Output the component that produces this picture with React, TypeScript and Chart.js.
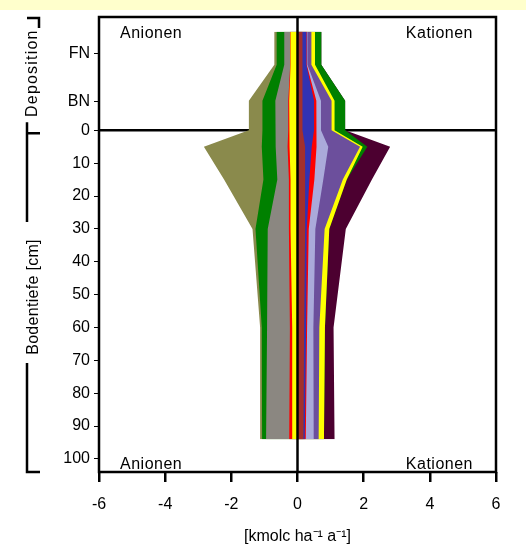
import React, { useEffect, useRef } from 'react';
import { Chart, registerables } from 'chart.js';

Chart.register(...registerables);

// depth positions (cm); negative values = deposition (FN / BN)
const depths = [-30, -20, -9, 0, 5, 15, 30, 60, 94];

// y-axis ticks
const yTickValues = [-23.5, -8.8, 0, 10, 20, 30, 40, 50, 60, 70, 80, 90, 100];
const yTickLabels = ['FN', 'BN', '0', '10', '20', '30', '40', '50', '60', '70', '80', '90', '100'];

// x-axis ticks
const xTickValues = [-6, -4, -2, 0, 2, 4, 6];

// Anionen (kmolc/ha/a), layers from zero outward
const anYellow = [0.21, 0.21, 0.25, 0.25, 0.23, 0.21, 0.21, 0.16, 0.16];
const anRed = [0.01, 0.01, 0.03, 0.03, 0.07, 0.05, 0.05, 0.07, 0.09];
const anGrey = [0.18, 0.18, 0.39, 0.39, 0.35, 0.35, 0.64, 0.69, 0.70];
const anGreen = [0.23, 0.23, 0.39, 0.39, 0.43, 0.42, 0.37, 0.16, 0.12];
const anOlive = [0.07, 0.07, 0.41, 0.41, 1.75, 1.19, 0.09, 0.05, 0.06];

// Kationen (kmolc/ha/a), layers from zero outward
const caBrown = [0.15, 0.15, 0.15, 0.15, 0.23, 0.23, 0.23, 0.20, 0.18];
const caBlue = [0.12, 0.12, 0.35, 0.35, 0.20, 0.13, 0.05, 0.06, 0.04];
const caRed = [0.01, 0.01, 0.07, 0.07, 0.15, 0.15, 0.06, 0.03, 0.03];
const caLavender = [0.02, 0.02, 0.14, 0.14, 0.35, 0.27, 0.20, 0.19, 0.24];
const caPurple = [0.12, 0.12, 0.32, 0.32, 0.96, 0.59, 0.28, 0.18, 0.15];
const caYellow = [0.11, 0.11, 0.09, 0.09, 0.08, 0.12, 0.14, 0.17, 0.16];
const caGreen = [0.19, 0.19, 0.32, 0.32, 0.14, 0, 0, 0, 0];
const caMaroon = [0, 0, 0, 0, 0.69, 0.76, 0.50, 0.26, 0.32];

const anionSeries = [
  { name: 'A1', values: anYellow, color: '#FFFF00' },
  { name: 'A2', values: anRed, color: '#FF0000' },
  { name: 'A3', values: anGrey, color: '#8B8781' },
  { name: 'A4', values: anGreen, color: '#008000' },
  { name: 'A5', values: anOlive, color: '#8A8A4C' },
];
const cationSeries = [
  { name: 'K1', values: caBrown, color: '#A3302C' },
  { name: 'K2', values: caBlue, color: '#3232B2' },
  { name: 'K3', values: caRed, color: '#FF0000' },
  { name: 'K4', values: caLavender, color: '#AAAADA' },
  { name: 'K5', values: caPurple, color: '#6C4F9C' },
  { name: 'K6', values: caYellow, color: '#FFFF00' },
  { name: 'K7', values: caGreen, color: '#008000' },
  { name: 'K8', values: caMaroon, color: '#4C0030' },
];

const FONT = '"Liberation Sans", Arial, sans-serif';

function buildDatasets(series: { name: string; values: number[]; color: string }[], sign: number) {
  const cum = depths.map(() => 0);
  return series.map((s, i) => {
    s.values.forEach((v, j) => (cum[j] += v));
    return {
      label: s.name,
      data: depths.map((d, j) => ({ x: sign * cum[j], y: d })),
      backgroundColor: s.color,
      borderColor: 'rgba(0,0,0,0)',
      borderWidth: 0,
      pointRadius: 0,
      fill: 'origin',
      order: i + 1,
      tension: 0,
    };
  });
}

const decor = {
  id: 'decor',
  beforeDatasetsDraw(chart: any) {
    const { ctx, chartArea: a, scales } = chart;
    const y0 = scales.y.getPixelForValue(0);
    ctx.save();
    ctx.strokeStyle = '#000';
    ctx.lineWidth = 2.5;
    ctx.beginPath();
    ctx.moveTo(a.left, y0);
    ctx.lineTo(a.right, y0);
    ctx.stroke();
    ctx.restore();
  },
  afterDatasetsDraw(chart: any) {
    const { ctx, chartArea: a, scales } = chart;
    const x0 = scales.x.getPixelForValue(0);
    ctx.save();
    ctx.strokeStyle = '#000';
    ctx.lineWidth = 2.5;
    ctx.beginPath();
    ctx.moveTo(x0, a.top);
    ctx.lineTo(x0, a.bottom);
    ctx.stroke();
    ctx.strokeRect(a.left, a.top, a.right - a.left, a.bottom - a.top);

    ctx.fillStyle = '#000';
    ctx.font = '16px ' + FONT;
    ctx.textBaseline = 'alphabetic';
    ctx.textAlign = 'left';
    (ctx as any).letterSpacing = '0.5px';
    ctx.fillText('Anionen', a.left + 21, a.top + 21);
    ctx.fillText('Anionen', a.left + 21, a.bottom - 3);
    ctx.textAlign = 'right';
    ctx.fillText('Kationen', a.right - 23, a.top + 21);
    ctx.fillText('Kationen', a.right - 23, a.bottom - 3);
    (ctx as any).letterSpacing = '0px';

    // brackets on the left
    const yZero = scales.y.getPixelForValue(0);
    ctx.lineWidth = 2.5;
    ctx.beginPath();
    // Deposition bracket
    ctx.moveTo(27, a.top + 1);
    ctx.lineTo(39, a.top + 1);
    ctx.lineTo(39, a.top + 11);
    ctx.moveTo(27, yZero - 8);
    ctx.lineTo(27, yZero + 3);
    // Bodentiefe bracket
    ctx.moveTo(40, yZero + 3);
    ctx.lineTo(27, yZero + 3);
    ctx.lineTo(27, 222);
    ctx.moveTo(27, 363);
    ctx.lineTo(27, a.bottom);
    ctx.lineTo(40, a.bottom);
    ctx.stroke();

    ctx.font = '16px ' + FONT;
    ctx.textAlign = 'center';
    ctx.save();
    ctx.translate(37, (a.top + yZero) / 2 - 0.5);
    ctx.rotate(-Math.PI / 2);
    (ctx as any).letterSpacing = '1.2px';
    ctx.fillText('Deposition', 0, 0);
    ctx.restore();
    ctx.save();
    ctx.translate(38, 297);
    ctx.rotate(-Math.PI / 2);
    (ctx as any).letterSpacing = '0.3px';
    ctx.fillText('Bodentiefe [cm]', 0, 0);
    ctx.restore();
    ctx.restore();
  },
};

export default function App() {
  const ref = useRef<HTMLCanvasElement | null>(null);
  useEffect(() => {
    document.body.style.margin = '0';
    const canvas = ref.current!;
    const datasets = [...buildDatasets(anionSeries, -1), ...buildDatasets(cationSeries, 1)];
    const chart = new Chart(canvas, {
      type: 'line',
      data: { datasets: datasets as any },
      plugins: [decor as any],
      options: {
        indexAxis: 'y',
        responsive: false,
        animation: false,
        events: [],
        layout: { padding: { top: 17, right: 30, left: 0, bottom: 0 } },
        plugins: { legend: { display: false }, tooltip: { enabled: false } },
        scales: {
          x: {
            type: 'linear',
            position: 'bottom',
            min: -6,
            max: 6,
            afterBuildTicks: (s: any) => {
              s.ticks = xTickValues.map((v) => ({ value: v }));
            },
            afterFit: (s: any) => {
              s.height = 77;
            },
            border: { display: false },
            grid: {
              display: true,
              drawOnChartArea: false,
              drawTicks: true,
              tickLength: 10,
              color: '#000',
              lineWidth: 2.5,
            },
            ticks: {
              color: '#000',
              font: { family: FONT, size: 16 },
              padding: 13,
              maxRotation: 0,
            },
            title: {
              display: true,
              text: '[kmolc ha\u207B\u00B9 a\u207B\u00B9]',
              color: '#000',
              font: { family: FONT, size: 16 },
              padding: { top: 0, bottom: 3 },
            },
          },
          y: {
            type: 'linear',
            reverse: true,
            min: -34.5,
            max: 104,
            afterBuildTicks: (s: any) => {
              s.ticks = yTickValues.map((v) => ({ value: v }));
            },
            afterFit: (s: any) => {
              s.width = 99;
            },
            border: { display: false },
            grid: {
              display: true,
              drawOnChartArea: false,
              drawTicks: true,
              tickLength: 5,
              color: '#000',
              lineWidth: 1,
            },
            ticks: {
              color: '#000',
              font: { family: FONT, size: 16 },
              padding: 4,
              autoSkip: false,
              callback: (value: any) => {
                const i = yTickValues.indexOf(Number(value));
                return i >= 0 ? yTickLabels[i] : '';
              },
            },
          },
        },
      },
    });
    return () => chart.destroy();
  }, []);

  return (
    <div style={{ position: 'absolute', left: 0, top: 0, width: 526, height: 549, background: '#fff' }}>
      <div style={{ position: 'absolute', left: 0, top: 0, width: 526, height: 10, background: '#FFFFCC' }} />
      <canvas ref={ref} width={526} height={549} style={{ position: 'absolute', left: 0, top: 0, width: 526, height: 549 }} />
    </div>
  );
}
